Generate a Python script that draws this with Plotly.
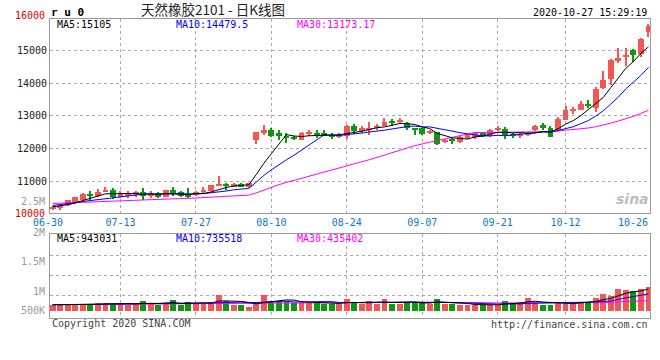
import plotly.graph_objects as go

# ---------------- data ----------------
dates = [
    "06-30",
    "07-01", "07-02", "07-03", "07-06", "07-07", "07-08", "07-09", "07-10", "07-13", "07-14",
    "07-15", "07-16", "07-17", "07-20", "07-21", "07-22", "07-23", "07-24", "07-27", "07-28",
    "07-29", "07-30", "07-31",
    "08-03", "08-04", "08-05", "08-06", "08-07", "08-10", "08-11", "08-12", "08-13", "08-14",
    "08-17", "08-18", "08-19", "08-20", "08-21", "08-24", "08-25", "08-26", "08-27", "08-28", "08-31",
    "09-01", "09-02", "09-03", "09-04", "09-07", "09-08", "09-09", "09-10", "09-11", "09-14",
    "09-15", "09-16", "09-17", "09-18", "09-21", "09-22", "09-23", "09-24", "09-25", "09-28",
    "09-29", "09-30",
    "10-09", "10-12", "10-13", "10-14", "10-15", "10-16", "10-19", "10-20", "10-21", "10-22",
    "10-23", "10-26", "10-27",
]

opens = [10150, 10220, 10270, 10330, 10450, 10630, 10560, 10680, 10730, 10520,
         10560, 10580, 10690, 10570, 10650, 10530, 10730, 10680, 10630, 10600,
         10700, 10710, 10880, 10935, 10855, 10915, 10820, 12252, 12480, 12556,
         12480, 12395, 12370, 12280, 12440, 12490, 12490, 12430, 12380, 12400,
         12700, 12560, 12600, 12620, 12700, 12840, 12830, 12780, 12620, 12620,
         12480, 12495, 12190, 12290, 12190, 12325, 12355, 12470, 12380, 12560,
         12598, 12455, 12380, 12420, 12560, 12720, 12640, 12577, 12880, 13165,
         13185, 13367, 13246, 13854, 14137, 14684, 14787, 15009, 14888, 15556]
highs = [10260, 10280, 10440, 10530, 10650, 10720, 10780, 10840, 10790, 10700,
         10700, 10720, 10810, 10700, 10690, 10750, 10835, 10720, 10790, 10720,
         10820, 10900, 11180, 10960, 10940, 10940, 10960, 12500, 12730, 12617,
         12560, 12477, 12400, 12500, 12560, 12580, 12560, 12480, 12470, 12710,
         12760, 12700, 12800, 12760, 12942, 12900, 12940, 12820, 12640, 12640,
         12560, 12500, 12300, 12340, 12390, 12440, 12510, 12520, 12600, 12700,
         12659, 12480, 12470, 12500, 12720, 12780, 12680, 12981, 13307, 13270,
         13450, 13490, 13875, 14380, 14720, 15070, 15070, 15050, 15370, 15800]
lows = [10130, 10140, 10250, 10310, 10440, 10450, 10540, 10670, 10470, 10490,
        10500, 10540, 10450, 10500, 10490, 10520, 10560, 10540, 10500, 10560,
        10650, 10700, 10870, 10750, 10820, 10830, 10800, 12130, 12420, 12355,
        12250, 12173, 12260, 12250, 12400, 12340, 12380, 12310, 12320, 12290,
        12455, 12490, 12416, 12560, 12678, 12700, 12760, 12580, 12420, 12430,
        12460, 12100, 12170, 12130, 12170, 12300, 12310, 12350, 12360, 12540,
        12295, 12330, 12340, 12400, 12540, 12560, 12350, 12560, 12860, 13060,
        13170, 13250, 13124, 13814, 13936, 14605, 14523, 14644, 14787, 15413]
closes = [10230, 10260, 10430, 10520, 10630, 10550, 10690, 10730, 10530, 10620,
          10620, 10680, 10570, 10630, 10520, 10730, 10650, 10570, 10530, 10690,
          10730, 10880, 10920, 10860, 10915, 10855, 10940, 12495, 12560, 12395,
          12375, 12315, 12290, 12480, 12510, 12420, 12400, 12380, 12420, 12700,
          12540, 12620, 12640, 12700, 12820, 12800, 12870, 12620, 12580, 12455,
          12540, 12140, 12270, 12250, 12370, 12425, 12477, 12390, 12577, 12630,
          12425, 12380, 12450, 12470, 12680, 12620, 12355, 12900, 13185, 13205,
          13367, 13310, 13833, 14097, 14705, 14766, 14866, 14848, 15353, 15739]

ma5 = [10230, 10250, 10290, 10350, 10414, 10478, 10564, 10624, 10626, 10624,
       10638, 10636, 10604, 10624, 10604, 10626, 10620, 10620, 10600, 10634,
       10634, 10680, 10750, 10816, 10861, 10886, 10898, 11213, 11553, 11849,
       12153, 12428, 12387, 12371, 12394, 12403, 12420, 12438, 12426, 12464,
       12488, 12532, 12584, 12640, 12664, 12716, 12766, 12762, 12738, 12665,
       12613, 12467, 12397, 12331, 12314, 12291, 12358, 12382, 12448, 12500,
       12500, 12480, 12492, 12471, 12481, 12520, 12515, 12605, 12748, 12853,
       13002, 13193, 13380, 13562, 13862, 14142, 14453, 14656, 14908, 15105]
ma10 = [10270, 10290, 10320, 10350, 10390, 10420, 10450, 10480, 10500, 10519,
        10558, 10600, 10614, 10625, 10614, 10632, 10628, 10612, 10612, 10619,
        10630, 10650, 10685, 10708, 10748, 10760, 10789, 10982, 11185, 11355,
        11520, 11663, 11800, 11962, 12122, 12278, 12424, 12413, 12399, 12429,
        12446, 12476, 12511, 12533, 12564, 12602, 12649, 12673, 12689, 12665,
        12665, 12617, 12580, 12535, 12490, 12452, 12413, 12390, 12389, 12407,
        12395, 12419, 12437, 12459, 12490, 12510, 12498, 12549, 12610, 12667,
        12761, 12854, 12993, 13155, 13358, 13572, 13823, 14018, 14235, 14480]
ma30 = [10330, 10340, 10350, 10360, 10370, 10380, 10390, 10400, 10410, 10420,
        10430, 10440, 10450, 10455, 10460, 10470, 10475, 10480, 10485, 10495,
        10505, 10515, 10530, 10540, 10555, 10570, 10585, 10650, 10740, 10831,
        10903, 10971, 11033, 11099, 11161, 11224, 11281, 11336, 11398, 11468,
        11532, 11596, 11665, 11734, 11811, 11880, 11954, 12022, 12091, 12150,
        12210, 12252, 12297, 12343, 12392, 12444, 12495, 12492, 12492, 12500,
        12502, 12504, 12509, 12509, 12515, 12521, 12520, 12537, 12563, 12579,
        12607, 12630, 12670, 12716, 12779, 12845, 12911, 12986, 13078, 13173]

# volume in thousands of lots
volume_k = [261, 261, 261, 232, 261, 304, 348, 348, 304, 304,
            261, 304, 435, 304, 261, 304, 478, 232, 391, 270,
            348, 391, 696, 435, 261, 232, 174, 391, 696, 435,
            391, 435, 348, 348, 348, 348, 304, 300, 280, 515,
            385, 275, 428, 275, 515, 297, 297, 384, 384, 340,
            275, 515, 297, 275, 255, 255, 255, 255, 255, 255,
            420, 333, 377, 551, 377, 246, 246, 333, 377, 333,
            400, 350, 560, 740, 640, 950, 900, 870, 950, 1045]
vma5_k = [255, 258, 260, 255, 255, 264, 281, 299, 313, 322,
          313, 304, 322, 322, 313, 322, 356, 316, 333, 335,
          344, 326, 419, 428, 426, 403, 360, 299, 351, 386,
          417, 470, 461, 391, 374, 365, 339, 330, 316, 349,
          357, 351, 377, 376, 376, 358, 362, 354, 375, 340,
          336, 380, 362, 340, 323, 319, 267, 259, 255, 255,
          288, 304, 328, 387, 412, 377, 359, 351, 316, 307,
          338, 359, 404, 477, 538, 648, 758, 820, 862, 943]
vma10_k = [262, 263, 264, 265, 267, 270, 273, 277, 282, 288,
           288, 293, 310, 317, 317, 317, 330, 319, 327, 324,
           333, 341, 368, 381, 381, 373, 343, 359, 389, 406,
           410, 415, 380, 371, 380, 391, 404, 395, 354, 362,
           361, 345, 353, 346, 363, 357, 357, 365, 376, 358,
           347, 371, 358, 358, 332, 328, 324, 311, 298, 289,
           304, 286, 294, 321, 333, 332, 332, 339, 352, 359,
           357, 359, 377, 396, 423, 493, 558, 612, 669, 736]
vma30_k = [265, 265, 266, 266, 267, 268, 270, 272, 274, 276,
           278, 280, 283, 286, 289, 292, 296, 300, 303, 306,
           310, 314, 318, 322, 325, 328, 330, 333, 336, 339,
           344, 350, 352, 356, 359, 361, 359, 358, 357, 364,
           368, 367, 367, 366, 374, 374, 368, 373, 373, 375,
           373, 377, 364, 358, 358, 359, 362, 357, 342, 336,
           337, 334, 335, 342, 343, 339, 337, 338, 342, 336,
           336, 339, 343, 358, 363, 384, 404, 421, 440, 435]

label_dates = ["07-13", "07-27", "08-10", "08-24", "09-07", "09-21", "10-12"]
price_ticks = [11000, 12000, 13000, 14000, 15000]

# ---------------- styling ----------------
RED = "#F45656"
GREEN = "#0A9A0A"
GRID = "#AAAAAA"
FRAME = "#999999"
MONO = "DejaVu Sans Mono"

W, H = 660, 360
ML, MR, MT, MB = 50, 10, 19, 42
PW, PH = W - ML - MR, H - MT - MB


def fx(px):
    return (px - ML) / PW


def fy(py):
    return (H - MB - py) / PH


x = list(range(len(dates)))
up = [c >= o for o, c in zip(opens, closes)]
colors = [RED if u else GREEN for u in up]
body_base = [min(o, c) for o, c in zip(opens, closes)]
body_h = [max(abs(c - o), 25) for o, c in zip(opens, closes)]

fig = go.Figure()

# wicks
fig.add_trace(go.Bar(x=x, y=[h - l for h, l in zip(highs, lows)], base=lows,
                     width=0.14, marker=dict(color=colors, line_width=0),
                     xaxis="x", yaxis="y", hoverinfo="skip"))
# bodies
fig.add_trace(go.Bar(x=x, y=body_h, base=body_base, width=0.78,
                     marker=dict(color=colors, line_width=0),
                     xaxis="x", yaxis="y"))
for ser, col in ((ma30, "#FF00FF"), (ma10, "#0000FF"), (ma5, "#000000")):
    fig.add_trace(go.Scatter(x=x, y=ser, mode="lines", line=dict(color=col, width=1),
                             xaxis="x", yaxis="y"))

# volume
fig.add_trace(go.Bar(x=x, y=volume_k, width=0.78, marker=dict(color=colors, line_width=0),
                     xaxis="x2", yaxis="y2"))
for ser, col in ((vma30_k, "#FF00FF"), (vma10_k, "#0000FF"), (vma5_k, "#000000")):
    fig.add_trace(go.Scatter(x=x, y=ser, mode="lines", line=dict(color=col, width=1),
                             xaxis="x2", yaxis="y2"))

tickvals = [dates.index(d) for d in label_dates]

main_bottom = fy(213.3)
vol_top = fy(234)

# volume scale: 0 at 310.7 px, 43.5K per px
vk_per_px = 43.5
v_lo = -(318 - 310.7) * vk_per_px
v_hi = (310.7 - 234) * vk_per_px
v_grid0, v_dgrid = (310.7 - 295) * vk_per_px, 19.6 * vk_per_px
vol_grid = [v_grid0 + k * v_dgrid for k in range(3)]

common_x = dict(range=[-0.35, 79.2], showgrid=True, gridcolor=GRID, griddash="dot",
                gridwidth=1, zeroline=False, showline=True, linecolor=FRAME,
                linewidth=1, mirror=True, ticks="", tickvals=tickvals,
                fixedrange=True)

fig.update_layout(
    width=W, height=H, autosize=False,
    margin=dict(l=ML, r=MR, t=MT, b=MB, pad=0),
    paper_bgcolor="white", plot_bgcolor="white",
    showlegend=False, barmode="overlay", bargap=0,
    xaxis=dict(common_x, domain=[0, 1], anchor="y", ticktext=label_dates,
               tickfont=dict(family=MONO, size=10, color="#0A78C8")),
    xaxis2=dict(common_x, domain=[0, 1], anchor="y2", showticklabels=False),
    yaxis=dict(domain=[main_bottom, 1], range=[10030, 15954], tickvals=price_ticks,
               ticktext=[str(v) for v in price_ticks],
               tickfont=dict(family=MONO, size=10, color="#222222"),
               showgrid=True, gridcolor=GRID, griddash="dot", zeroline=False,
               showline=True, linecolor=FRAME, mirror=True, ticks=""),
    yaxis2=dict(domain=[0, vol_top], range=[v_lo, v_hi], tickvals=vol_grid,
                showticklabels=False, showgrid=True, gridcolor=GRID, griddash="dot",
                zeroline=False, showline=True, linecolor=FRAME, mirror=True, ticks=""),
)

ann = []


def text(px, py, s, color="#000", size=10, anchor="left", family=MONO, bold=False, italic=False):
    if bold:
        s = "<b>" + s + "</b>"
    if italic:
        s = "<i>" + s + "</i>"
    ann.append(dict(x=fx(px), y=fy(py), xref="paper", yref="paper", text=s,
                    showarrow=False, xanchor=anchor, yanchor="middle",
                    font=dict(family=family, size=size, color=color)))


# header
text(49, 12, "r u 0", size=11, bold=True)
text(213, 9.5, "天然橡胶2101 - 日K线图", size=13.5, anchor="center",
     family="Noto Sans CJK SC", color="#222")
text(649, 12, "2020-10-27 15:29:19", size=10, anchor="right")
# price axis extras
text(47, 15.5, "16000", color="#E00000", anchor="right")
text(47, 213, "10000", color="#E00000", anchor="right")
text(47, 201, "2.5M", color="#999", anchor="right")
# MA legends
text(55, 25, "MA5:15105", color="#000")
text(174, 25, "MA10:14479.5", color="#0000FF")
text(295, 25, "MA30:13173.17", color="#FF00FF")
text(55, 238, "MA5:943031", color="#000")
text(174, 238, "MA10:735518", color="#0000FF")
text(295, 238, "MA30:435402", color="#FF00FF")
# x labels at the ends
text(48, 222, "06-30", color="#0A78C8", anchor="center")
text(650, 222, "10-26", color="#0A78C8", anchor="right")
# volume labels
text(47, 232, "2M", color="#999", anchor="right")
text(47, 261, "1.5M", color="#999", anchor="right")
text(47, 291, "1M", color="#999", anchor="right")
text(47, 310, "500K", color="#999", anchor="right")
# footer
text(50, 323.5, "Copyright 2020 SINA.COM", color="#444")
text(650, 324, "http://finance.sina.com.cn", color="#444", anchor="right")
# watermark
text(632, 199, "sina", color="#BDBDBD", size=14, anchor="center",
     family="DejaVu Sans", bold=True, italic=True)

fig.update_layout(annotations=ann)

fig.write_html("out.html", config=dict(displayModeBar=False),
               post_script="document.body.style.margin='0';document.body.style.padding='0';")
